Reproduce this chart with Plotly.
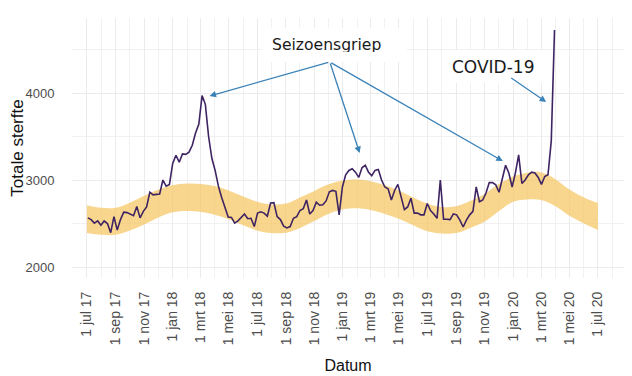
import pandas as pd
import plotly.graph_objects as go

# ---- data ----
deaths = [
    2565, 2545, 2505, 2530, 2480, 2530, 2500, 2395, 2580, 2425,
    2545, 2630, 2625, 2605, 2590, 2695, 2565, 2640, 2690, 2860,
    2830, 2835, 2840, 3000, 2930, 2950, 3190, 3285, 3205, 3300,
    3295, 3320, 3400, 3540, 3640, 3970, 3870, 3500, 3250, 3110,
    2930, 2800, 2680, 2575, 2570, 2505, 2530, 2575, 2610, 2555,
    2560, 2465, 2620, 2635, 2620, 2585, 2735, 2740, 2580, 2545,
    2470, 2450, 2465, 2560, 2578, 2650, 2670, 2770, 2610, 2650,
    2745, 2710, 2715, 2760, 2865, 2880, 2870, 2600, 2920, 3060,
    3110, 3130, 3090, 3030, 3140, 3170, 3090, 3050, 3110, 3120,
    3000, 2920, 2900, 2770, 2880, 2950, 2790, 2660, 2690, 2790,
    2620, 2620, 2600, 2600, 2730, 2650, 2610, 2560, 3000, 2550,
    2550, 2545, 2610, 2600, 2540, 2460, 2540, 2600, 2640, 2920,
    2750, 2770, 2850, 2970, 2970, 2945, 2860, 3030, 3170, 3080,
    2920, 3080, 3290, 2960, 3000, 3060, 3090, 3080, 3030, 2950,
    3040, 3060, 3450, 4725,
]
weeks = pd.date_range("2017-07-03", periods=len(deaths), freq="7D")

band_upper = [2710, 2680, 2680, 2740, 2820, 2890, 2940, 2960, 2955, 2930,
              2880, 2810, 2750, 2720, 2730, 2800, 2875, 2950, 2995, 3005,
              2985, 2940, 2880, 2800, 2730, 2690, 2700, 2760, 2840, 2950,
              3040, 3085, 3090, 3010, 2890, 2800, 2735]
band_lower = [2390, 2370, 2370, 2420, 2490, 2570, 2630, 2645, 2635, 2600,
              2550, 2480, 2420, 2390, 2395, 2450, 2530, 2610, 2665, 2675,
              2655, 2610, 2555, 2480, 2410, 2385, 2390, 2450, 2520, 2640,
              2750, 2775, 2770, 2700, 2590, 2500, 2425]
band_months = pd.date_range("2017-07-01", periods=len(band_upper), freq="MS")

tick_dates = pd.date_range("2017-07-01", "2020-07-01", freq="2MS")
tick_labels = ["1 jul 17", "1 sep 17", "1 nov 17", "1 jan 18", "1 mrt 18", "1 mei 18",
               "1 jul 18", "1 sep 18", "1 nov 18", "1 jan 19", "1 mrt 19", "1 mei 19",
               "1 jul 19", "1 sep 19", "1 nov 19", "1 jan 20", "1 mrt 20", "1 mei 20",
               "1 jul 20"]
minor_dates = pd.date_range("2017-06-01", "2020-08-01", freq="MS")

y_ticks = [2000, 3000, 4000]
y_minor = [2500, 3500, 4500]

# ---- figure ----
fig = go.Figure()
fig.add_trace(go.Scatter(x=band_months, y=band_lower, mode="lines",
                         line=dict(width=0, shape="spline"), hoverinfo="skip",
                         showlegend=False))
fig.add_trace(go.Scatter(x=band_months, y=band_upper, mode="lines",
                         line=dict(width=0, shape="spline"), fill="tonexty",
                         fillcolor="rgba(247,196,92,0.7)", hoverinfo="skip",
                         showlegend=False))
fig.add_trace(go.Scatter(x=weeks, y=deaths, mode="lines",
                         line=dict(color="#3E2463", width=1.6),
                         showlegend=False))

grid = "#EBEBEB"
tickfont = dict(family="Liberation Sans, Arial, sans-serif", size=13, color="#4D4D4D")

fig.update_layout(
    width=624, height=368,
    margin=dict(l=64, r=8, t=10, b=98),
    paper_bgcolor="white", plot_bgcolor="white",
    xaxis=dict(
        range=["2017-05-30", "2020-08-26"],
        tickmode="array", tickvals=tick_dates, ticktext=tick_labels,
        tickangle=-90, tickfont=dict(tickfont, size=14),
        ticks="outside", ticklen=7, tickcolor="rgba(0,0,0,0)",
        showgrid=True, gridcolor=grid, gridwidth=1,
        minor=dict(tickmode="array", tickvals=minor_dates, showgrid=True,
                   gridcolor="#F1F1F1", gridwidth=0.8),
        zeroline=False, showline=False, automargin=False,
        title=dict(text="Datum", standoff=15,
                   font=dict(family="Liberation Sans, Arial, sans-serif", size=16, color="#111111")),
    ),
    yaxis=dict(
        range=[1874, 4862],
        tickmode="array", tickvals=y_ticks, tickfont=tickfont,
        ticks="outside", ticklen=14, tickcolor="rgba(0,0,0,0)",
        showgrid=True, gridcolor=grid, gridwidth=1,
        minor=dict(tickmode="array", tickvals=y_minor, showgrid=True,
                   gridcolor="#F1F1F1", gridwidth=0.8),
        zeroline=False, showline=False, automargin=False,
        title=dict(text="Totale sterfte", standoff=2,
                   font=dict(family="Liberation Sans, Arial, sans-serif", size=17, color="#111111")),
    ),
)

arrow_color = "#3A82B8"
lab_font = dict(family="DejaVu Sans, Verdana, sans-serif", color="#1A1A1A")

# label boxes
fig.add_annotation(x="2018-12-14", y=4552, xref="x", yref="y", text="Seizoensgriep",
                   showarrow=False, bgcolor="white", borderpad=10, borderwidth=0,
                   width=125, height=14, align="left", font=dict(lab_font, size=15.6))
fig.add_annotation(x="2019-11-25", y=4305, xref="x", yref="y", text="COVID-19",
                   showarrow=False, bgcolor="white", borderpad=10, borderwidth=0,
                   width=88, height=13, align="left", font=dict(lab_font, size=17))

# arrows
arrows = [
    ("2018-12-04", 4356, "2018-03-21", 3966),
    ("2018-12-04", 4356, "2019-02-06", 3310),
    ("2018-12-04", 4356, "2019-12-10", 3218),
    ("2019-12-25", 4184, "2020-03-12", 3897),
]
for tx, ty, hx, hy in arrows:
    fig.add_annotation(x=hx, y=hy, ax=tx, ay=ty, xref="x", yref="y",
                       axref="x", ayref="y", text="", showarrow=True,
                       arrowhead=2, arrowsize=1, arrowwidth=1.3,
                       arrowcolor=arrow_color, standoff=0, startstandoff=0)

fig.write_html("out.html")
